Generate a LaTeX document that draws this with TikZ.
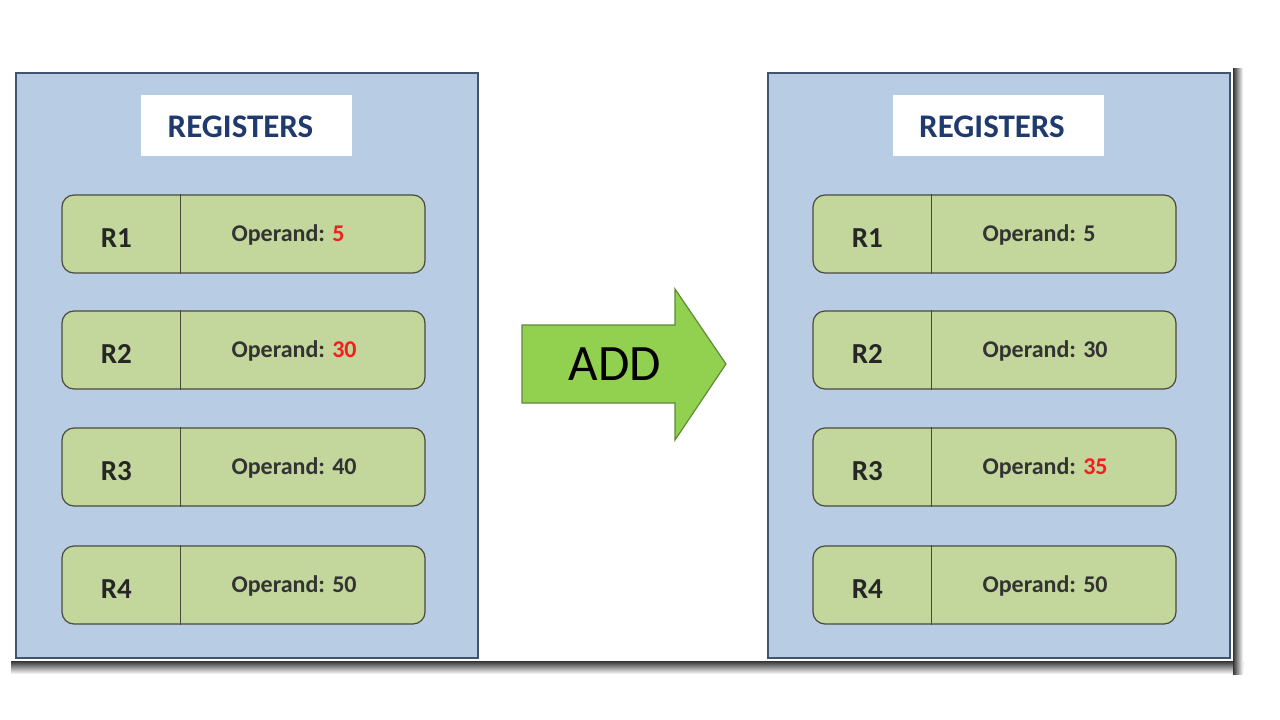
\documentclass[tikz,border=0pt]{standalone}
\usepackage{fontspec}
\setmainfont{Carlito}
\usetikzlibrary{calc}
\definecolor{panelfill}{HTML}{B8CCE4}
\definecolor{paneldraw}{HTML}{3E5470}
\definecolor{regfill}{HTML}{C3D69B}
\definecolor{regdraw}{HTML}{4A4A3C}
\definecolor{arrowfill}{HTML}{92D050}
\definecolor{arrowdraw}{HTML}{5E8A3A}
\definecolor{navy}{HTML}{1F3A6E}
\definecolor{valred}{HTML}{F02020}
\tikzset{
  panel/.style={draw=paneldraw, line width=2pt, fill=panelfill, minimum width=462pt, minimum height=585pt, inner sep=0pt},
  header/.style={fill=white, minimum width=211pt, minimum height=61pt, inner sep=0pt},
  headtext/.style={font=\fontsize{33}{36}\selectfont\bfseries, text=navy, inner sep=0pt},
  regbox/.style={draw=regdraw, line width=1.2pt, fill=regfill, rounded corners=12pt, minimum width=363pt, minimum height=78pt, inner sep=0pt},
  divider/.style={draw=regdraw, line width=1.2pt},
  regname/.style={font=\fontsize{29}{32}\selectfont\bfseries, text=black!85, inner sep=0pt},
  opval/.style={font=\fontsize{24}{28}\selectfont\bfseries, text=black!80, inner sep=0pt, anchor=west},
  addarrow/.style={draw=arrowdraw, line width=1.2pt, fill=arrowfill},
  addtext/.style={font=\fontsize{51}{56}\selectfont, text=black, inner sep=0pt}
}
\newcommand{\regrow}[4]{%
  \node[regbox] (#1) at (#2) {};
  \draw[divider] ($(#1.north west)+(119,0)$) -- ($(#1.south west)+(119,0)$);
  \node[regname] (#1n) at ($(#1.west)+(55,4)$) {#3};
  \node[opval] (#1v) at ($(#1.west)+(170,1)$) {#4};
}
\begin{document}
\begin{tikzpicture}[x=1pt,y=-1pt]
\useasboundingbox (0,0) rectangle (1280,720);
\fill[white] (0,0) rectangle (1280,720);
% page shadow
\shade[top color=black!80, bottom color=white] (11,661) rectangle (1243,674);
\shade[left color=black!80, right color=white] (1233,68) rectangle (1243,674);
\fill[white] (11,60) rectangle (1233,661);
% panels
\node[panel] (lp) at (247,365.5) {};
\node[panel] (rp) at (998.5,365.5) {};
\node[header] (lh) at (246.5,125.5) {};
\node[header] (rh) at (998,125.5) {};
\node[headtext] (lht) at ($(lh)+(-6,1)$) {REGISTERS};
\node[headtext] (rht) at ($(rh)+(-6,1)$) {REGISTERS};
% left registers
\regrow{L1}{243.5,234}{R1}{Operand: \textcolor{valred}{5}}
\regrow{L2}{243.5,350}{R2}{Operand: \textcolor{valred}{30}}
\regrow{L3}{243.5,467}{R3}{Operand: 40}
\regrow{L4}{243.5,585}{R4}{Operand: 50}
% right registers
\regrow{R1}{994.5,234}{R1}{Operand: 5}
\regrow{R2}{994.5,350}{R2}{Operand: 30}
\regrow{R3}{994.5,467}{R3}{Operand: \textcolor{valred}{35}}
\regrow{R4}{994.5,585}{R4}{Operand: 50}
% ADD arrow
\draw[addarrow] (522,325) -- (675,325) -- (675,289) -- (726,364) -- (675,440) -- (675,403) -- (522,403) -- cycle;
\node[addtext] (add) at (615,364) {ADD};
\end{tikzpicture}
\end{document}
